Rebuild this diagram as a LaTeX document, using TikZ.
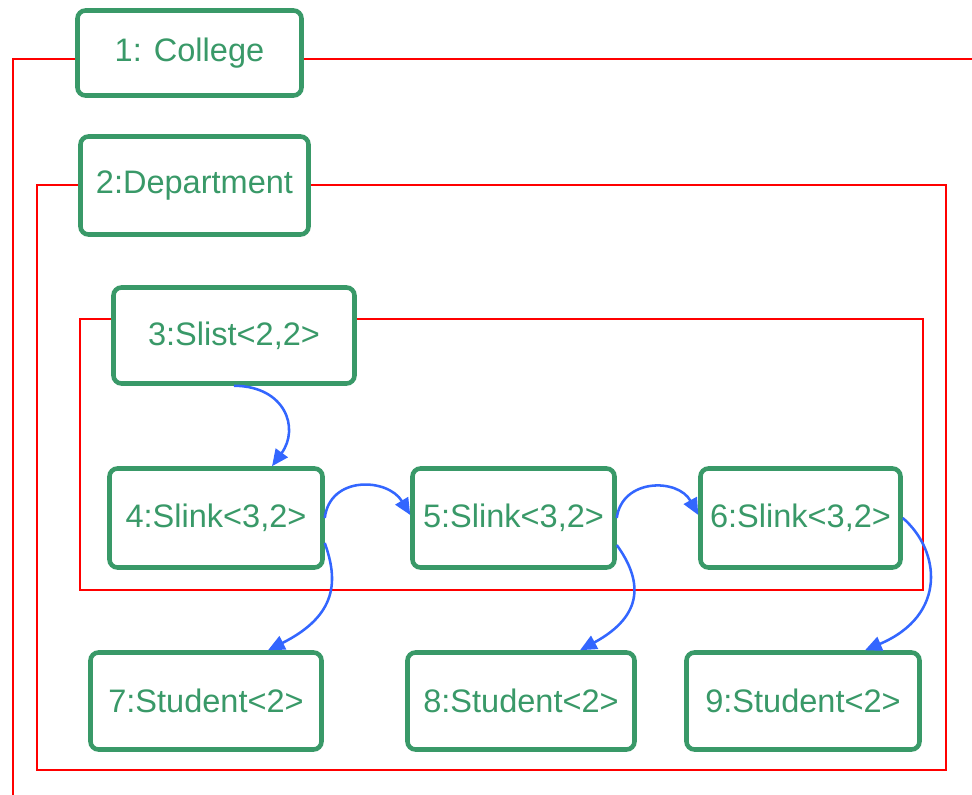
\documentclass[tikz,border=0pt]{standalone}
\usepackage{fontspec}
\setmainfont{Liberation Sans}
\usetikzlibrary{arrows.meta,calc}
\definecolor{boxgreen}{RGB}{57,153,104}
\definecolor{framered}{RGB}{255,0,0}
\definecolor{linkblue}{RGB}{51,102,255}
\tikzset{
  box/.style={draw=boxgreen, line width=3.4pt, rounded corners=6pt, fill=white,
    text=boxgreen, inner sep=0pt, font=\fontsize{24.4}{29}\selectfont},
  sz/.style 2 args={minimum width=#1*0.75pt, minimum height=#2*0.75pt},
  frame/.style={draw=framered, line width=1.8pt},
  link/.style={draw=linkblue, line width=1.9pt,
    -{Triangle[length=12.5pt,width=11pt]}},
}
\begin{document}
\begin{tikzpicture}[x=0.75pt, y=-0.75pt]
\useasboundingbox (0,0) rectangle (972,795);
\clip (0,0) rectangle (972,795);

% containment frames
\draw[frame] (13,805) -- (13,59) -- (985,59);
\draw[frame] (37,185) rectangle (946,770);
\draw[frame] (80,319) rectangle (923,590);

% objects
\node[box, sz={224}{85}] (n1) at (189.5,53) {1: College};
\node[box, sz={228}{98}] (n2) at (194.5,185.5) {2:Department};
\node[box, sz={241}{96}] (n3) at (234,335.5) {3:Slist<2,2>};
\node[box, sz={213}{99}] (n4) at (216,518) {4:Slink<3,2>};
\node[box, sz={202}{99}] (n5) at (513.5,518) {5:Slink<3,2>};
\node[box, sz={200}{99}] (n6) at (800.5,518) {6:Slink<3,2>};
\node[box, sz={231}{97}] (n7) at (206,701) {7:Student<2>};
\node[box, sz={227}{97}] (n8) at (521,701) {8:Student<2>};
\node[box, sz={233}{97}] (n9) at (803,701) {9:Student<2>};

% list links
\draw[link] (n3.south) .. controls (285,386) and (300,428) .. ($(n4.north)+(56,0)$);
\draw[link] (n4.east) .. controls (330,475) and (388,478) .. ($(n5.west)+(0,-3)$);
\draw[link] (n5.east) .. controls (622,478) and (678,478) .. ($(n6.west)+(0,-3)$);

% element links
\draw[link] ($(n4.east)+(0,25)$) .. controls (338,580) and (338,615) .. ($(n7.north)+(62,0)$);
\draw[link] ($(n5.east)+(0,27)$) .. controls (642,580) and (645,615) .. ($(n8.north)+(59,0)$);
\draw[link] (n6.east) .. controls (940,550) and (948,615) .. ($(n9.north)+(62,0)$);
\end{tikzpicture}
\end{document}
